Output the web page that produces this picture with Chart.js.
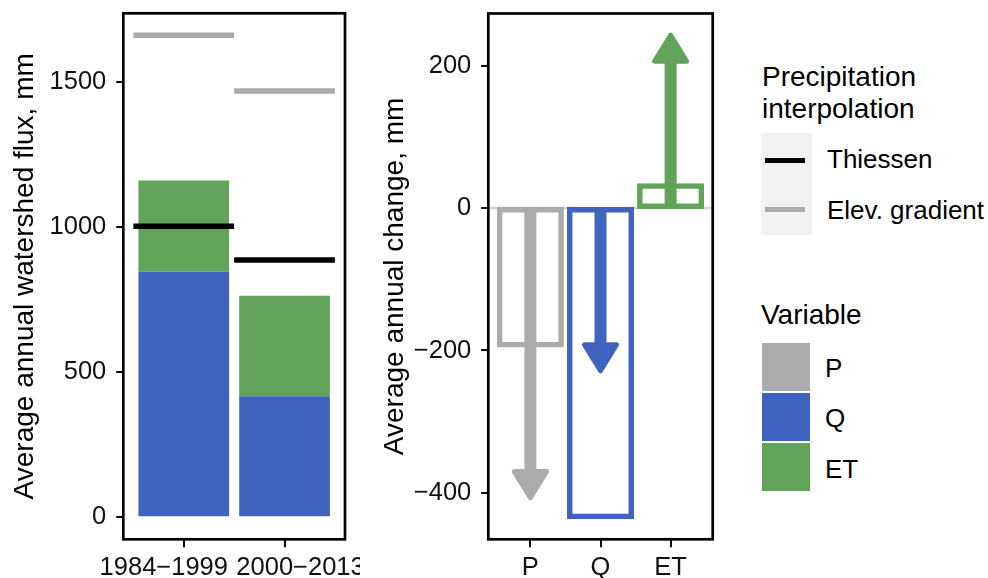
<!DOCTYPE html>
<html>
<head>
<meta charset="utf-8">
<script src="https://cdn.jsdelivr.net/npm/chart.js@4.4.1/dist/chart.umd.min.js"></script>
<style>
  body { margin: 0; background: #fff; width: 988px; height: 578px; position: relative; overflow: hidden;
         font-family: "Liberation Sans", Arial, Helvetica, sans-serif; color: #000; }
  canvas { position: absolute; top: 0; }
  #fluxChart { left: 0; }
  #changeChart { left: 360px; }
  .lg { position: absolute; font-size: 26px; line-height: 28px; white-space: nowrap; }
  .lgt { position: absolute; font-size: 28px; line-height: 31.6px; white-space: nowrap; }
  .keybg { position: absolute; left: 761px; top: 133px; width: 51px; height: 102px; background: #F2F2F2; }
  .keyline { position: absolute; left: 765px; width: 40px; height: 5px; }
  .swatch { position: absolute; left: 761px; width: 50px; height: 50px; box-sizing: border-box; border: 1px solid #fff; }
</style>
</head>
<body>
<canvas id="fluxChart" width="360" height="578"></canvas>
<canvas id="changeChart" width="370" height="578"></canvas>

<div class="lgt" style="left:762px; top:61px;">Precipitation<br>interpolation</div>
<div class="keybg"></div>
<div class="keyline" style="top:158px; background:#000;"></div>
<div class="keyline" style="top:207px; background:#ABABAB;"></div>
<div class="lg" style="left:827px; top:145px;">Thiessen</div>
<div class="lg" style="left:827px; top:196px;">Elev. gradient</div>

<div class="lgt" style="left:761px; top:299px;">Variable</div>
<div class="swatch" style="top:342px; background:#ABABAB;"></div>
<div class="swatch" style="top:392px; background:#4063BF;"></div>
<div class="swatch" style="top:442px; background:#61A358;"></div>
<div class="lg" style="left:825px; top:354px;">P</div>
<div class="lg" style="left:825px; top:404px;">Q</div>
<div class="lg" style="left:825px; top:455px;">ET</div>

<script>
// left panel: annual fluxes per period
const periods = ['1984−1999', '2000−2013'];
const fluxQ = [846, 417];
const fluxET = [314, 346];
const precipThiessen = [1002, 886];
const precipElev = [1660, 1468];
const fluxTicks = [0, 500, 1000, 1500];

// right panel: change between periods
const variables = ['P', 'Q', 'ET'];
const changeBars = [-193, -434, 32];
const changeArrows = [-410, -232, 246];
const changeTicks = [-400, -200, 0, 200];

const colP = '#ABABAB', colQ = '#4063BF', colET = '#61A358';
const varColors = [colP, colQ, colET];
const FONT = '"Liberation Sans", Arial, Helvetica, sans-serif';
const FS = 25.5;     // tick labels
const FS_TITLE = 28; // axis titles

// the period labels sit off-centre in the original (they would overlap otherwise)
const periodLabelShift = [-20, 16];

Chart.defaults.font.family = FONT;
Chart.defaults.color = '#000';

// horizontal segment across each category slot
function steps(values) {
    const pts = [];
    values.forEach((v, i) => {
        if (i > 0) pts.push({ x: i + 1.5, y: null });
        pts.push({ x: i + 0.5, y: v }, { x: i + 1.5, y: v });
    });
    return pts;
}

const fmt = v => String(v).replace('-', '−');

const panelBox = {
    id: 'panelBox',
    afterDraw(chart) {
        const a = chart.chartArea, ctx = chart.ctx;
        ctx.save();
        ctx.strokeStyle = '#000';
        ctx.lineWidth = 2.7;
        ctx.strokeRect(a.left, a.top, a.right - a.left, a.bottom - a.top);
        ctx.restore();
    }
};

const shiftLabels = {
    id: 'shiftLabels',
    beforeDraw(chart) {
        const items = chart.scales.x.getLabelItems(chart.chartArea);
        items.forEach((it, i) => {
            if (it._shifted) return;
            it.options.translation[0] += periodLabelShift[i] || 0;
            it._shifted = true;
        });
    }
};

const zeroLine = {
    id: 'zeroLine',
    beforeDatasetsDraw(chart) {
        const a = chart.chartArea, ctx = chart.ctx;
        const y = chart.scales.y.getPixelForValue(0);
        ctx.save();
        ctx.strokeStyle = '#D6D6D6';
        ctx.lineWidth = 2.5;
        ctx.beginPath();
        ctx.moveTo(a.left, y);
        ctx.lineTo(a.right, y);
        ctx.stroke();
        ctx.restore();
    }
};

// draws shaft + closed head for datasets flagged as arrows
const arrows = {
    id: 'arrows',
    afterDatasetsDraw(chart) {
        const ctx = chart.ctx;
        chart.data.datasets.forEach((ds, i) => {
            if (!ds.arrow) return;
            const pts = chart.getDatasetMeta(i).data;
            const x = pts[0].x, y0 = pts[0].y, y1 = pts[1].y;
            const dir = Math.sign(y1 - y0);
            const headLen = 31, halfW = 16, rnd = 5;
            const baseY = y1 - dir * headLen;
            ctx.save();
            ctx.strokeStyle = ds.borderColor;
            ctx.fillStyle = ds.borderColor;
            ctx.lineWidth = 12;
            ctx.lineCap = 'butt';
            ctx.beginPath();
            ctx.moveTo(x, y0);
            ctx.lineTo(x, baseY + dir * 4);
            ctx.stroke();
            ctx.lineWidth = rnd;
            ctx.lineJoin = 'round';
            ctx.beginPath();
            ctx.moveTo(x, y1 - dir * rnd / 2);
            ctx.lineTo(x - halfW, baseY + dir * rnd / 2);
            ctx.lineTo(x + halfW, baseY + dir * rnd / 2);
            ctx.closePath();
            ctx.fill();
            ctx.stroke();
            ctx.restore();
        });
    }
};

function yAxis(min, max, tickVals, title, width, titlePad) {
    return {
        type: 'linear', min: min, max: max,
        afterBuildTicks: s => { s.ticks = tickVals.map(v => ({ value: v })); },
        afterFit: s => { s.width = width; s.paddingTop = 0; s.paddingBottom = 0; },
        ticks: { font: { size: FS }, color: '#111', padding: 10, callback: fmt },
        grid: { drawOnChartArea: false, drawTicks: true, tickLength: 7, color: '#000', lineWidth: 2 },
        border: { display: false },
        title: { display: true, text: title, font: { size: FS_TITLE }, color: '#000', padding: { top: titlePad, bottom: 0 } }
    };
}

function xAxis(min, max, labels, height) {
    return {
        type: 'linear', min: min, max: max, offset: false,
        afterBuildTicks: s => { s.ticks = labels.map((l, i) => ({ value: i + 1 })); },
        afterFit: s => { s.height = height; s.paddingLeft = 0; s.paddingRight = 0; },
        ticks: { font: { size: FS }, color: '#111', padding: 5, autoSkip: false, maxRotation: 0, minRotation: 0,
                 callback: v => labels[Math.round(v) - 1] },
        grid: { drawOnChartArea: false, drawTicks: true, tickLength: 8, color: '#000', lineWidth: 2, offset: false },
        border: { display: false }
    };
}

new Chart(document.getElementById('fluxChart').getContext('2d'), {
    type: 'bar',
    data: {
        datasets: [
            { type: 'line', label: 'Thiessen', data: steps(precipThiessen), borderColor: '#000', borderWidth: 5.5,
              pointRadius: 0, spanGaps: false, borderCapStyle: 'butt', order: 0 },
            { type: 'line', label: 'Elev. gradient', data: steps(precipElev), borderColor: colP, borderWidth: 5.5,
              pointRadius: 0, spanGaps: false, borderCapStyle: 'butt', order: 1 },
            { label: 'Q', data: fluxQ.map((v, i) => ({ x: i + 1, y: [0, v] })), backgroundColor: colQ,
              grouped: false, barPercentage: 0.9, categoryPercentage: 1, order: 2 },
            { label: 'ET', data: fluxET.map((v, i) => ({ x: i + 1, y: [fluxQ[i], fluxQ[i] + v] })), backgroundColor: colET,
              grouped: false, barPercentage: 0.9, categoryPercentage: 1, order: 2 }
        ]
    },
    options: {
        responsive: false,
        animation: false,
        devicePixelRatio: 1,
        layout: { padding: { top: 13.3, right: 15, left: 0, bottom: 0 }, autoPadding: false },
        plugins: { legend: { display: false }, tooltip: { enabled: false } },
        scales: {
            x: xAxis(0.4, 2.6, periods, 38.7),
            y: yAxis(-76, 1736, fluxTicks, 'Average annual watershed flux, mm', 123.3, 8)
        }
    },
    plugins: [shiftLabels, panelBox]
});

new Chart(document.getElementById('changeChart').getContext('2d'), {
    type: 'bar',
    data: {
        datasets: [
            { label: 'change', data: changeBars.map((v, i) => ({ x: i + 1, y: v })),
              backgroundColor: 'rgba(0,0,0,0)', borderColor: varColors, borderWidth: 1.5, inflateAmount: 2,
              borderSkipped: false, barPercentage: 0.9, categoryPercentage: 1, order: 2 }
        ].concat(changeArrows.map((v, i) => ({
            type: 'line', label: variables[i], arrow: true,
            data: [{ x: i + 1, y: 0 }, { x: i + 1, y: v }],
            borderColor: varColors[i], showLine: false, pointRadius: 0, order: 0
        })))
    },
    options: {
        responsive: false,
        animation: false,
        devicePixelRatio: 1,
        layout: { padding: { top: 13.5, right: 17.3, left: 0, bottom: 0 }, autoPadding: false },
        plugins: { legend: { display: false }, tooltip: { enabled: false } },
        scales: {
            x: xAxis(0.4, 3.6, variables, 38.7),
            y: yAxis(-465, 273, changeTicks, 'Average annual change, mm', 128.3, 18)
        }
    },
    plugins: [zeroLine, arrows, panelBox]
});
</script>
</body>
</html>
